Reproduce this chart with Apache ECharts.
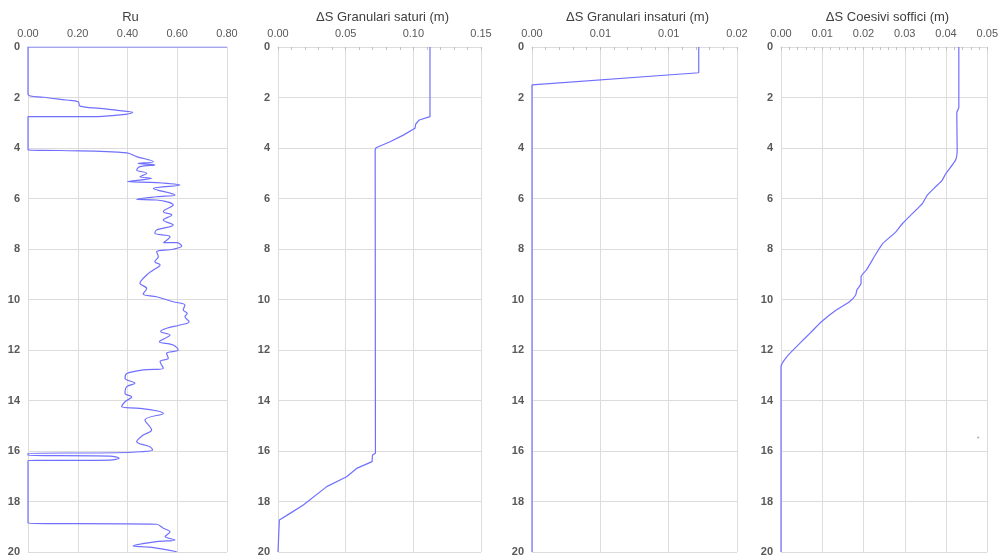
<!DOCTYPE html>
<html>
<head>
<meta charset="utf-8">
<script src="https://cdn.jsdelivr.net/npm/echarts@6/dist/echarts.min.js"></script>
<style>
html,body{margin:0;padding:0;background:#fff;}
#c{width:1001px;height:558px;}
</style>
</head>
<body>
<div id="c"></div>
<script>
// ---- Data ----
const titles = ['Ru', '\u0394S Granulari saturi (m)', '\u0394S Granulari insaturi (m)', '\u0394S Coesivi soffici (m)'];
const depthTicks = ['0','2','4','6','8','10','12','14','16','18','20'];
const ruTicks = ['0.00','0.20','0.40','0.60','0.80'];
const satTicks = ['0.00','0.05','0.10','0.15'];
const insTicks = ['0.00','0.01','0.01','0.02'];
const coeTicks = ['0.00','0.01','0.02','0.03','0.04','0.05'];

const ruDepth = [0,0,1.87,1.99,2.1,2.17,2.34,2.43,2.52,2.59,2.69,2.76,2.76,4.08,4.1,4.19,4.34,4.54,4.61,4.67,4.74,4.87,5.0,5.14,5.2,5.33,5.37,5.47,5.6,5.86,5.93,6.03,6.06,6.26,6.52,6.65,6.85,7.05,7.25,7.38,7.51,7.75,7.75,7.88,8.01,8.11,8.3,8.5,8.63,8.83,9.03,9.36,9.56,9.78,9.89,10.09,10.22,10.42,10.55,10.68,10.88,11.01,11.14,11.27,11.41,11.67,11.8,12.0,12.13,12.33,12.46,12.72,12.79,12.93,13.12,13.32,13.45,13.72,13.85,14.05,14.25,14.31,14.51,14.77,15.17,15.37,15.63,15.83,15.96,16.03,16.07,16.09,16.17,16.2,16.29,16.36,16.38,18.86,18.9,19.06,19.2,19.39,19.52,19.59,19.76,19.81,19.99];
const ruValue = [0.8,0,0,0.062,0.155,0.202,0.209,0.289,0.37,0.421,0.37,0.263,0,0,0.13,0.397,0.437,0.504,0.443,0.51,0.45,0.437,0.477,0.45,0.497,0.4,0.517,0.611,0.504,0.591,0.517,0.437,0.517,0.584,0.544,0.578,0.544,0.584,0.517,0.51,0.571,0.544,0.598,0.618,0.584,0.517,0.524,0.51,0.531,0.504,0.477,0.45,0.477,0.463,0.517,0.584,0.631,0.624,0.64,0.631,0.648,0.611,0.557,0.533,0.571,0.528,0.584,0.604,0.557,0.564,0.531,0.544,0.463,0.397,0.39,0.43,0.397,0.39,0.417,0.39,0.377,0.45,0.544,0.47,0.497,0.463,0.437,0.49,0.501,0.45,0.357,0,0,0.33,0.366,0.33,0,0,0.517,0.544,0.571,0.551,0.591,0.517,0.423,0.49,0.598];

const satDepth = [0,2.76,2.89,3.05,3.22,3.49,3.75,3.99,4.08,16.09,16.16,16.42,16.69,17.02,17.41,18.14,18.47,18.73,18.8,20];
const satValue = [0.1123,0.1123,0.1044,0.1018,0.1012,0.0926,0.0828,0.0724,0.0718,0.0720,0.0698,0.0695,0.0581,0.0507,0.036,0.0187,0.0089,0.001,0,0];

const insDepth = [0,1.02,1.5,20];
const insValue = [0.0122,0.0122,0,0];

const coeDepth = [0,2.4,2.6,4.08,4.48,5.0,5.29,5.53,5.86,6.19,6.59,6.98,7.31,7.78,8.17,8.83,9.10,9.36,9.62,9.82,10.09,10.42,10.88,11.34,11.73,12.27,12.66,20];
const coeValue = [0.0431,0.0431,0.0426,0.0427,0.0423,0.0400,0.0390,0.0375,0.0355,0.0343,0.0319,0.0295,0.0279,0.0247,0.0231,0.0207,0.0194,0.0194,0.0184,0.0181,0.0166,0.0134,0.0098,0.0070,0.0046,0.0014,0,0];

const coeDotDepth = [15.47];
const coeDotValue = [0.0478];

// ---- Build ----
const panels = [
  {left:28, width:199, max:0.8, interval:0.2, labels:ruTicks, depth:ruDepth, value:ruValue, minor:false, smooth:0.35},
  {left:278, width:203, max:0.15, interval:0.05, labels:satTicks, depth:satDepth, value:satValue, minor:true, smooth:false},
  {left:532, width:205, max:0.015, interval:0.005, labels:insTicks, depth:insDepth, value:insValue, minor:true, smooth:false},
  {left:781, width:207, max:0.05, interval:0.01, labels:coeTicks, depth:coeDepth, value:coeValue, minor:true, smooth:0.2}
];
const gridTop = 47, gridHeight = 505;
const lineColor = '#7070ff';
const gridColor = '#dcdcdc';
const labelColor = '#595959';
const fontFam = '"Liberation Sans", Arial, sans-serif';

const grid = [], xAxis = [], yAxis = [], series = [], title = [];
panels.forEach((p, i) => {
  grid.push({left:p.left, top:gridTop, width:p.width, height:gridHeight, containLabel:false});
  title.push({text:titles[i], left:p.left + p.width/2 - 2, top:6, textAlign:'center',
    textStyle:{fontFamily:fontFam, fontSize:13, fontWeight:'normal', color:'#404040'}});
  xAxis.push({type:'value', gridIndex:i, position:'top', min:0, max:p.max, interval:p.interval,
    axisLine:{show:true, lineStyle:{color:gridColor}},
    axisTick:{show:p.minor, inside:true, length:3, lineStyle:{color:'#bfbfbf'}},
    minorTick:{show:p.minor, splitNumber:5, length:3, lineStyle:{color:'#bfbfbf'}},
    splitLine:{show:true, lineStyle:{color:gridColor, width:1}},
    axisLabel:{margin:8, color:labelColor, fontFamily:fontFam, fontSize:11,
      formatter:(v, idx) => p.labels[Math.round(v / p.interval)]}
  });
  yAxis.push({type:'value', gridIndex:i, inverse:true, min:0, max:20, interval:2,
    axisLine:{show:true, lineStyle:{color:gridColor}},
    axisTick:{show:false},
    splitLine:{show:true, lineStyle:{color:gridColor, width:1}},
    axisLabel:{margin:8, color:labelColor, fontFamily:fontFam, fontSize:11, fontWeight:'bold',
      formatter:(v) => depthTicks[Math.round(v/2)]}
  });
  series.push({type:'line', xAxisIndex:i, yAxisIndex:i, showSymbol:false, symbol:'none',
    smooth:p.smooth, lineStyle:{color:lineColor, width:1.2}, animation:false,
    data:p.value.map((v, k) => [v, p.depth[k]])});
});
series.push({type:'scatter', xAxisIndex:3, yAxisIndex:3, symbolSize:2, animation:false,
  itemStyle:{color:'#999999'}, data:coeDotValue.map((v,k)=>[v, coeDotDepth[k]])});

const chart = echarts.init(document.getElementById('c'), null, {renderer:'canvas'});
chart.setOption({backgroundColor:'#ffffff', animation:false, title, grid, xAxis, yAxis, series});
</script>
</body>
</html>
